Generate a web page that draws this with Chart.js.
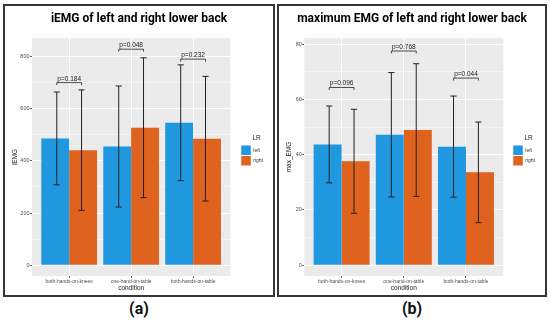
<!DOCTYPE html>
<html>
<head>
<meta charset="utf-8">
<script src="https://cdn.jsdelivr.net/npm/chart.js@4.4.1/dist/chart.umd.min.js"></script>
<style>
body { margin: 0; background: #fff; width: 550px; height: 321px; overflow: hidden; position: relative; }
.panel { position: absolute; top: 4px; height: 293px; border: 2px solid #363636; box-sizing: border-box; }
#pa { left: 3px; width: 272px; }
#pb { left: 277px; width: 270px; }
.panel canvas { position: absolute; left: 0; top: 0; }
.tag { position: absolute; top: 299px; width: 40px; margin-left: -20px; text-align: center; line-height: 18px;
       font: bold 16px Roboto, 'Liberation Sans', sans-serif; color: #111; }
</style>
</head>
<body>
<div class="panel" id="pa"><canvas id="chartA" width="268" height="289"></canvas></div>
<div class="panel" id="pb"><canvas id="chartB" width="266" height="289"></canvas></div>
<div class="tag" style="left:139px">(a)</div>
<div class="tag" style="left:412px">(b)</div>
<script>
// data
var conditions = ['both-hands-on-knees', 'one-hand-on-table', 'both-hands-on-table'];
var seriesNames = ['left', 'right'];
var seriesColors = ['#1f98df', '#df621f'];

var iemgLeft = [486, 455, 546];
var iemgLeftSd = [178, 232, 222];
var iemgRight = [441, 527, 485];
var iemgRightSd = [231, 268, 239];
var iemgPvals = ['p=0.184', 'p=0.048', 'p=0.232'];
var iemgBracketY = [700, 828, 790];
var iemgTicks = [0, 200, 400, 600, 800];

var maxLeft = [43.7, 47.2, 42.9];
var maxLeftSd = [13.9, 22.5, 18.3];
var maxRight = [37.6, 48.9, 33.6];
var maxRightSd = [18.8, 24.0, 18.2];
var maxPvals = ['p=0.096', 'p=0.768', 'p=0.044'];
var maxBracketY = [64.3, 77.5, 67.7];
var maxTicks = [0, 20, 40, 60, 80];

Chart.defaults.font.family = "'Liberation Sans', Arial, sans-serif";
Chart.defaults.animation = false;

var panelBg = {
    id: 'panelBg',
    beforeDraw: function (chart) {
        var a = chart.chartArea;
        chart.ctx.save();
        chart.ctx.fillStyle = '#ebebeb';
        chart.ctx.fillRect(a.left, a.top, a.right - a.left, a.bottom - a.top);
        chart.ctx.restore();
    }
};

// error bars are dodged by 0.8 like geom_errorbar, bars by 0.9
var errorBars = {
    id: 'errorBars',
    afterDatasetsDraw: function (chart) {
        var ctx = chart.ctx, xs = chart.scales.x, ys = chart.scales.y;
        var hw = xs.getPixelForValue(1.05) - xs.getPixelForValue(1);
        ctx.save();
        ctx.strokeStyle = '#222';
        ctx.lineWidth = 1;
        chart.data.datasets.forEach(function (ds, d) {
            var shift = d === 0 ? -0.2 : 0.2;
            ds.data.forEach(function (p, i) {
                var cx = xs.getPixelForValue(p.x + shift);
                var top = ys.getPixelForValue(p.y + ds.sd[i]);
                var bot = ys.getPixelForValue(p.y - ds.sd[i]);
                ctx.beginPath();
                ctx.moveTo(cx, top); ctx.lineTo(cx, bot);
                ctx.moveTo(cx - hw, top); ctx.lineTo(cx + hw, top);
                ctx.moveTo(cx - hw, bot); ctx.lineTo(cx + hw, bot);
                ctx.stroke();
            });
        });
        ctx.restore();
    }
};

var brackets = {
    id: 'brackets',
    afterDatasetsDraw: function (chart, args, opts) {
        var ctx = chart.ctx, xs = chart.scales.x, ys = chart.scales.y;
        ctx.save();
        ctx.strokeStyle = '#222';
        ctx.fillStyle = '#222';
        ctx.lineWidth = 0.8;
        ctx.font = "6.5px 'Liberation Sans', Arial, sans-serif";
        ctx.textAlign = 'center';
        ctx.textBaseline = 'alphabetic';
        opts.values.forEach(function (v, i) {
            var x1 = xs.getPixelForValue(i + 1 - 0.2);
            var x2 = xs.getPixelForValue(i + 1 + 0.2);
            var y = ys.getPixelForValue(v);
            ctx.beginPath();
            ctx.moveTo(x1, y + 2.5); ctx.lineTo(x1, y); ctx.lineTo(x2, y); ctx.lineTo(x2, y + 2.5);
            ctx.stroke();
            ctx.fillText(opts.labels[i], (x1 + x2) / 2, y - 2);
        });
        ctx.restore();
    }
};

function isOn(v, step) {
    return Math.abs(v / step - Math.round(v / step)) < 1e-6;
}

function makeChart(id, opt) {
    var majorStep = opt.ticks[1] - opt.ticks[0];
    var yTicks = [];
    opt.ticks.forEach(function (t, i) {
        yTicks.push({ value: t });
        if (i < opt.ticks.length - 1) yTicks.push({ value: t + majorStep / 2 });
    });
    var sets = [[opt.left, opt.leftSd], [opt.right, opt.rightSd]];
    return new Chart(document.getElementById(id), {
        type: 'bar',
        data: {
            datasets: sets.map(function (s, d) {
                return {
                    label: seriesNames[d],
                    data: s[0].map(function (v, i) { return { x: i + 1, y: v }; }),
                    sd: s[1],
                    backgroundColor: seriesColors[d],
                    borderWidth: 0,
                    categoryPercentage: 0.9,
                    barPercentage: 1.0
                };
            })
        },
        options: {
            responsive: false,
            devicePixelRatio: 1,
            layout: { padding: { left: 0, right: 0, top: 0, bottom: 0 } },
            plugins: {
                title: {
                    display: true,
                    text: opt.title,
                    color: '#000',
                    font: { family: 'Roboto', size: 12, weight: 'bold' },
                    padding: { top: 5.8, bottom: 11.8 }
                },
                legend: {
                    position: 'right',
                    align: 'center',
                    title: { display: true, text: 'LR', color: '#1a1a1a', font: { size: 6.5 }, padding: { top: 0, bottom: 2 } },
                    labels: { boxWidth: 9.5, boxHeight: 9.5, padding: 1, color: '#333', font: { size: 5 } }
                },
                tooltip: { enabled: false },
                brackets: { values: opt.bracketY, labels: opt.pvals }
            },
            scales: {
                x: {
                    type: 'linear',
                    min: 0.4,
                    max: 3.6,
                    offset: false,
                    afterBuildTicks: function (axis) {
                        axis.ticks = conditions.map(function (c, i) { return { value: i + 1 }; });
                    },
                    afterFit: function (s) { s.height = 19; },
                    ticks: {
                        autoSkip: false, maxRotation: 0, padding: 0.5, color: '#4d4d4d', font: { size: 5 },
                        callback: function (v) { return conditions[v - 1]; }
                    },
                    grid: { offset: false, color: '#fff', lineWidth: 1, tickLength: 2, tickColor: '#333', tickWidth: 0.8 },
                    border: { display: false },
                    title: { display: true, text: 'condition', color: '#1a1a1a', font: { size: 6.5 }, padding: { top: 0, bottom: 3 } }
                },
                y: {
                    min: opt.yMin,
                    max: opt.yMax,
                    afterBuildTicks: function (axis) { axis.ticks = yTicks.slice(); },
                    afterFit: function (s) { s.width = opt.yWidth; },
                    ticks: {
                        padding: 0.5, color: '#4d4d4d', font: { size: 5.5 },
                        callback: function (v) { return isOn(v, majorStep) ? String(v) : ''; }
                    },
                    grid: {
                        color: '#fff',
                        lineWidth: function (c) { return c.tick && isOn(c.tick.value, majorStep) ? 1 : 0.5; },
                        tickLength: 2,
                        tickWidth: 0.8,
                        tickColor: function (c) { return c.tick && isOn(c.tick.value, majorStep) ? '#333' : 'rgba(0,0,0,0)'; }
                    },
                    border: { display: false },
                    title: { display: true, text: opt.yTitle, color: '#1a1a1a', font: { size: 6.5 }, padding: { top: 6, bottom: 0 } }
                },
                gap: {
                    type: 'linear',
                    position: 'right',
                    display: true,
                    afterFit: function (s) { s.width = opt.gap; },
                    ticks: { display: false },
                    grid: { display: false },
                    border: { display: false }
                }
            }
        },
        plugins: [panelBg, errorBars, brackets]
    });
}

makeChart('chartA', {
    title: 'iEMG of left and right lower back', yTitle: 'iEMG',
    left: iemgLeft, leftSd: iemgLeftSd, right: iemgRight, rightSd: iemgRightSd,
    pvals: iemgPvals, bracketY: iemgBracketY, ticks: iemgTicks,
    yMin: -41.5, yMax: 871, yWidth: 27, gap: 10
});
makeChart('chartB', {
    title: 'maximum EMG of left and right lower back', yTitle: 'max_EMG',
    left: maxLeft, leftSd: maxLeftSd, right: maxRight, rightSd: maxRightSd,
    pvals: maxPvals, bracketY: maxBracketY, ticks: maxTicks,
    yMin: -3.9, yMax: 82.2, yWidth: 25.3, gap: 9
});
</script>
</body>
</html>
